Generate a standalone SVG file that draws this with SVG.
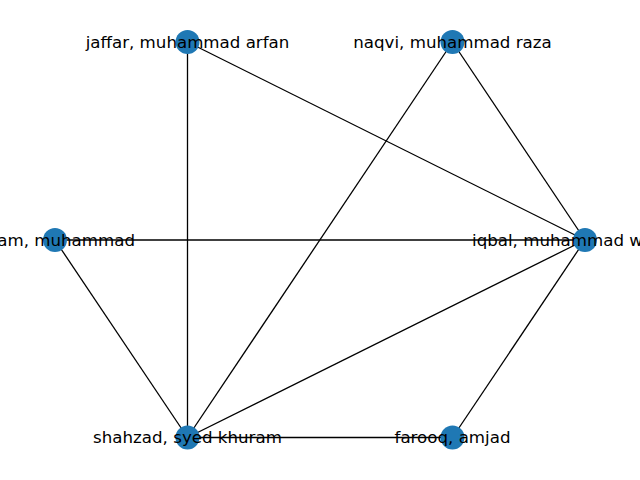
<svg xmlns="http://www.w3.org/2000/svg" width="640" height="480" viewBox="0 0 640 480">
<style>
.e{stroke:#000;stroke-width:1.3;fill:none}
.n{fill:#1f78b4}
.t{font-family:"DejaVu Sans",sans-serif;font-size:16.67px;fill:#000;dominant-baseline:central}
</style>
<rect width="640" height="480" fill="#fff"/>
<g id="edges">
<line class="e" x1="187.5" y1="42" x2="585" y2="240"/>
<line class="e" x1="187.5" y1="42" x2="187.5" y2="437.5"/>
<line class="e" x1="452.5" y1="42" x2="585" y2="240"/>
<line class="e" x1="452.5" y1="42" x2="187.5" y2="437.5"/>
<line class="e" x1="55" y1="240" x2="585" y2="240"/>
<line class="e" x1="55" y1="240" x2="187.5" y2="437.5"/>
<line class="e" x1="187.5" y1="437.5" x2="585" y2="240"/>
<line class="e" x1="187.5" y1="437.5" x2="452.5" y2="437.5"/>
<line class="e" x1="452.5" y1="437.5" x2="585" y2="240"/>
</g>
<g id="node-iqbal"><circle class="n" cx="585" cy="240" r="12"/><text class="t" x="472" y="240">iqbal, muhammad w</text></g>
<g id="node-naqvi"><circle class="n" cx="452.5" cy="42" r="12"/><text class="t" x="452.5" y="42" text-anchor="middle">naqvi, muhammad raza</text></g>
<g id="node-jaffar"><circle class="n" cx="187.5" cy="42" r="12"/><text class="t" x="187.5" y="42" text-anchor="middle">jaffar, muhammad arfan</text></g>
<g id="node-muhammad"><circle class="n" cx="55" cy="240" r="12"/><text class="t" x="135" y="240" text-anchor="end">am, muhammad</text></g>
<g id="node-shahzad"><circle class="n" cx="187.5" cy="437.5" r="12"/><text class="t" x="187.5" y="437.5" text-anchor="middle">shahzad, syed khuram</text></g>
<g id="node-farooq"><circle class="n" cx="452.5" cy="437.5" r="12"/><text class="t" x="452.5" y="437.5" text-anchor="middle">farooq, amjad</text></g>
</svg>
